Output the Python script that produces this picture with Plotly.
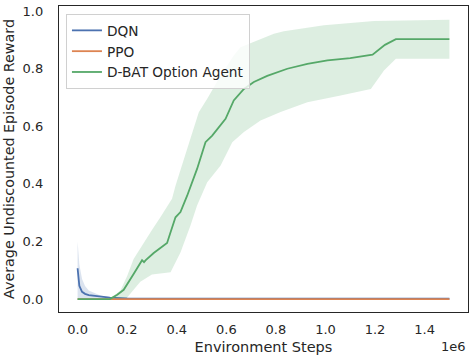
import plotly.graph_objects as go

# ---- data (x in environment steps, y = reward) ----
dqn_x = [0, 7e3, 18e3, 30e3, 45e3, 70e3, 92e3, 130e3, 200e3, 1.5e6]
dqn_mean = [0.107, 0.046, 0.025, 0.018, 0.014, 0.011, 0.009, 0.005, 0.002, 0.001]
dqn_upper = [0.2, 0.12, 0.07, 0.045, 0.03, 0.02, 0.012, 0.006, 0.003, 0.002]
dqn_lower = [0.0, 0.0, 0.0, 0.0, 0.0, 0.0, 0.0, 0.0, 0.0, 0.0]

ppo_x = [0, 1.5e6]
ppo_mean = [0.0, 0.0]

dbat_x = [0, 130e3, 160e3, 186e3, 226e3, 253e3, 260e3, 268e3, 275e3, 307e3, 361e3,
          375e3, 395e3, 415e3, 442e3, 482e3, 516e3, 543e3, 597e3, 630e3, 671e3,
          711e3, 765e3, 846e3, 927e3, 1008e3, 1100e3, 1190e3, 1240e3, 1284e3, 1500e3]
dbat_mean = [0.0, 0.0, 0.015, 0.032, 0.087, 0.128, 0.135, 0.128, 0.135, 0.16, 0.195,
             0.232, 0.284, 0.302, 0.359, 0.452, 0.545, 0.568, 0.626, 0.69, 0.73,
             0.754, 0.775, 0.80, 0.817, 0.829, 0.837, 0.849, 0.883, 0.903, 0.903]

dbat_up_x = [0, 130e3, 173e3, 200e3, 226e3, 267e3, 300e3, 334e3, 381e3, 395e3, 422e3,
             455e3, 489e3, 523e3, 577e3, 630e3, 657e3, 711e3, 792e3, 832e3, 994e3,
             1196e3, 1500e3]
dbat_upper = [0.0, 0.0, 0.03, 0.08, 0.139, 0.197, 0.24, 0.284, 0.348, 0.394, 0.464,
              0.557, 0.649, 0.696, 0.777, 0.846, 0.875, 0.893, 0.922, 0.93, 0.951,
              0.966, 0.97]

dbat_lo_x = [0, 130e3, 200e3, 253e3, 300e3, 375e3, 415e3, 455e3, 482e3, 523e3, 577e3,
             624e3, 671e3, 738e3, 819e3, 927e3, 1061e3, 1183e3, 1236e3, 1284e3, 1500e3]
dbat_lower = [0.0, 0.0, 0.005, 0.06, 0.085, 0.093, 0.162, 0.255, 0.325, 0.406, 0.464,
              0.545, 0.58, 0.62, 0.65, 0.684, 0.707, 0.73, 0.794, 0.835, 0.835]

x_tickvals = [0, 0.2e6, 0.4e6, 0.6e6, 0.8e6, 1.0e6, 1.2e6, 1.4e6]
x_ticktext = ["0.0", "0.2", "0.4", "0.6", "0.8", "1.0", "1.2", "1.4"]
y_tickvals = [0.0, 0.2, 0.4, 0.6, 0.8, 1.0]
y_ticktext = ["0.0", "0.2", "0.4", "0.6", "0.8", "1.0"]

BLUE = "#4c72b0"
ORANGE = "#dd8452"
GREEN = "#55a868"
TXT = "#262626"
FONT = "DejaVu Sans"

fig = go.Figure()


def band(xu, yu, xl, yl, color):
    fig.add_trace(go.Scatter(
        x=list(xu) + list(xl)[::-1], y=list(yu) + list(yl)[::-1],
        fill="toself", fillcolor=color, line=dict(width=0),
        mode="lines", showlegend=False, hoverinfo="skip"))


band(dqn_x, dqn_upper, dqn_x, dqn_lower, "rgba(76,114,176,0.2)")
fig.add_trace(go.Scatter(x=dqn_x, y=dqn_mean, mode="lines", name="DQN",
                         line=dict(color=BLUE, width=1.8)))
fig.add_trace(go.Scatter(x=ppo_x, y=ppo_mean, mode="lines", name="PPO",
                         line=dict(color=ORANGE, width=1.8)))
band(dbat_up_x, dbat_upper, dbat_lo_x, dbat_lower, "rgba(85,168,104,0.2)")
fig.add_trace(go.Scatter(x=dbat_x, y=dbat_mean, mode="lines", name="D-BAT Option Agent",
                         line=dict(color=GREEN, width=1.8)))

fig.update_layout(
    width=470, height=356,
    margin=dict(l=59, r=2, t=6, b=44),
    plot_bgcolor="white", paper_bgcolor="white",
    font=dict(family=FONT, size=13, color=TXT),
    showlegend=True,
    legend=dict(x=0.017, y=0.974, xanchor="left", yanchor="top",
                bgcolor="rgba(255,255,255,0.8)", bordercolor="#d0d0d0", borderwidth=1,
                font=dict(family=FONT, size=13.7, color=TXT)),
    xaxis=dict(range=[-0.075e6, 1.575e6], tickvals=x_tickvals, ticktext=x_ticktext,
               showgrid=False, zeroline=False, showline=True, mirror=True,
               linecolor=TXT, linewidth=1.25,
               ticks="outside", ticklen=5, tickcolor="rgba(0,0,0,0)",
               tickfont=dict(size=13, color=TXT),
               title=dict(text="Environment Steps", font=dict(size=14.5, color=TXT), standoff=6)),
    yaxis=dict(range=[-0.045, 1.018], tickvals=y_tickvals, ticktext=y_ticktext,
               showgrid=False, zeroline=False, showline=True, mirror=True,
               linecolor=TXT, linewidth=1.25,
               ticks="outside", ticklen=12, tickcolor="rgba(0,0,0,0)",
               tickfont=dict(size=13, color=TXT),
               title=dict(text="Average Undiscounted Episode Reward",
                          font=dict(size=14.3, color=TXT), standoff=4)),
    annotations=[dict(text="1e6", xref="paper", yref="paper", x=1.0, y=-0.114,
                      xanchor="right", yanchor="middle", showarrow=False,
                      font=dict(size=13, color=TXT))],
)

fig.write_html("out.html", config={"displayModeBar": False},
               post_script="document.body.style.margin='0';document.body.style.padding='0';"
                           "document.documentElement.style.overflow='hidden';")
